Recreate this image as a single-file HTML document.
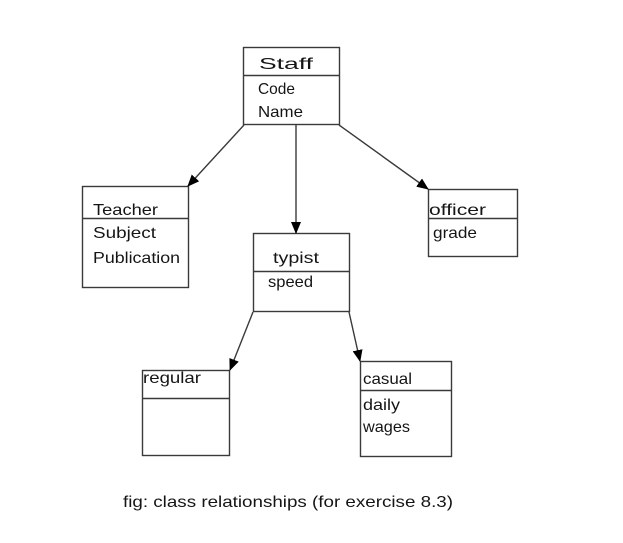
<!DOCTYPE html>
<html><head><meta charset="utf-8"><style>
html,body{margin:0;padding:0;background:#fff;}
svg{display:block;}
text{font-family:"Liberation Sans",sans-serif;font-size:16px;fill:#151515;}
</style></head><body>
<svg width="623" height="543" viewBox="0 0 623 543" xmlns="http://www.w3.org/2000/svg">
<defs>
<marker id="ah" markerWidth="12" markerHeight="10" refX="11" refY="5" orient="auto" markerUnits="userSpaceOnUse">
<path d="M0,0 L12,5 L0,10 z" fill="#000"/>
</marker>
</defs>
<g fill="none" stroke="#3a3a3a" stroke-width="1.4">
<!-- Staff -->
<rect x="243.5" y="47.5" width="96" height="77"/>
<line x1="243.5" y1="75.5" x2="339.5" y2="75.5"/>
<!-- Teacher -->
<rect x="82.5" y="186.5" width="106" height="101"/>
<line x1="82.5" y1="218.5" x2="188.5" y2="218.5"/>
<!-- typist -->
<rect x="253.5" y="233.5" width="96" height="78"/>
<line x1="253.5" y1="271.5" x2="349.5" y2="271.5"/>
<!-- officer -->
<rect x="428.5" y="189.5" width="89" height="67"/>
<line x1="428.5" y1="218.5" x2="517.5" y2="218.5"/>
<!-- regular -->
<rect x="142.5" y="370.5" width="87" height="85"/>
<line x1="142.5" y1="398.5" x2="229.5" y2="398.5"/>
<!-- casual -->
<rect x="360.5" y="361.5" width="91" height="95"/>
<line x1="360.5" y1="390.5" x2="451.5" y2="390.5"/>
<!-- arrows -->
<line x1="244" y1="125" x2="188" y2="186" marker-end="url(#ah)"/>
<line x1="296" y1="125" x2="296" y2="233" marker-end="url(#ah)"/>
<line x1="339" y1="125" x2="428" y2="189" marker-end="url(#ah)"/>
<line x1="253" y1="312" x2="230" y2="370" marker-end="url(#ah)"/>
<line x1="349" y1="312" x2="360" y2="361" marker-end="url(#ah)"/>
</g>
<text x="259" y="69" textLength="54" lengthAdjust="spacingAndGlyphs">Staff</text>
<text x="258" y="94" textLength="37" lengthAdjust="spacingAndGlyphs">Code</text>
<text x="258" y="117" textLength="45" lengthAdjust="spacingAndGlyphs">Name</text>
<text x="93" y="215" textLength="65" lengthAdjust="spacingAndGlyphs">Teacher</text>
<text x="93" y="238" textLength="63" lengthAdjust="spacingAndGlyphs">Subject</text>
<text x="93" y="263" textLength="87" lengthAdjust="spacingAndGlyphs">Publication</text>
<text x="273" y="263" textLength="46" lengthAdjust="spacingAndGlyphs">typist</text>
<text x="268" y="287" textLength="45" lengthAdjust="spacingAndGlyphs">speed</text>
<text x="429" y="215" textLength="57" lengthAdjust="spacingAndGlyphs">officer</text>
<text x="433" y="238" textLength="44" lengthAdjust="spacingAndGlyphs">grade</text>
<text x="143" y="383" textLength="58" lengthAdjust="spacingAndGlyphs">regular</text>
<text x="363" y="384" textLength="49" lengthAdjust="spacingAndGlyphs">casual</text>
<text x="363" y="410" textLength="37" lengthAdjust="spacingAndGlyphs">daily</text>
<text x="363" y="432" textLength="47" lengthAdjust="spacingAndGlyphs">wages</text>
<text x="123" y="507" textLength="330" lengthAdjust="spacingAndGlyphs">fig: class relationships (for exercise 8.3)</text>
</svg>
</body></html>
